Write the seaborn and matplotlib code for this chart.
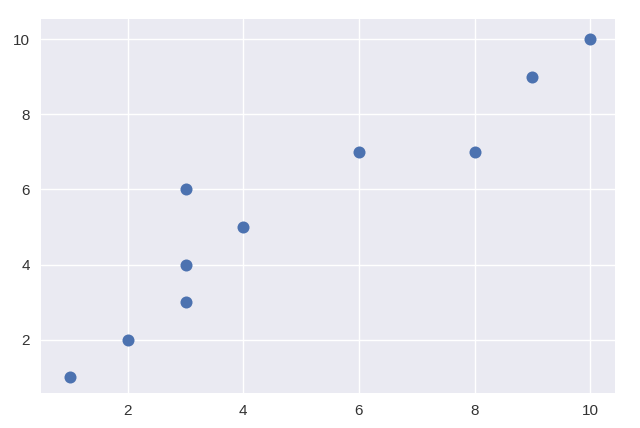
import matplotlib
matplotlib.use("Agg")
import matplotlib.pyplot as plt
import seaborn as sns

x_values = [1, 2, 3, 3, 3, 4, 6, 8, 9, 10]
y_values = [1, 2, 3, 4, 6, 5, 7, 7, 9, 10]

sns.set_theme(style="darkgrid")
plt.rcParams["font.family"] = ["Liberation Sans", "DejaVu Sans"]

fig = plt.figure(figsize=(6.4, 4.28), dpi=100)
ax = fig.add_axes([41 / 640, 1 - 393 / 428, 574 / 640, 374 / 428])
sns.scatterplot(x=x_values, y=y_values, color="#4C72B0", s=75, linewidth=0, ax=ax)
ax.set_xlim(0.5, 10.43)
ax.set_ylim(0.58, 10.54)
ax.set_xticks([2, 4, 6, 8, 10])
ax.set_yticks([2, 4, 6, 8, 10])
ax.tick_params(labelsize=11, colors="#333333", length=0, pad=8)
for spine in ax.spines.values():
    spine.set_visible(False)

fig.savefig("out.png", dpi=100)
plt.close(fig)
